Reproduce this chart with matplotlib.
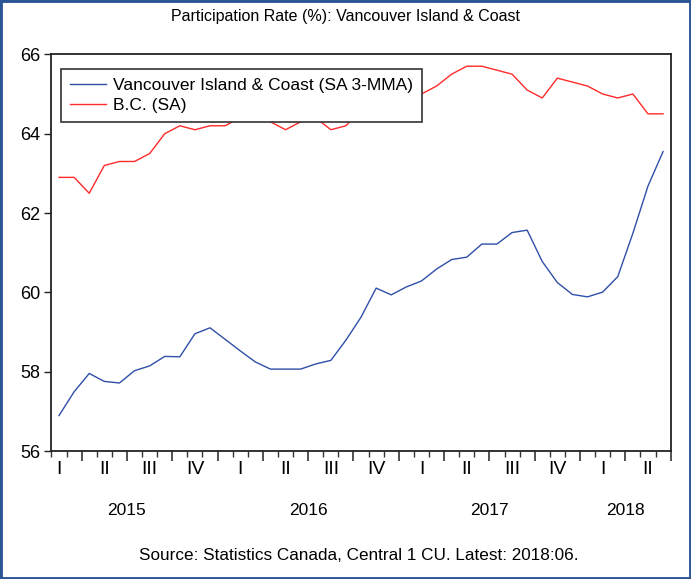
import numpy as np
import matplotlib
matplotlib.use("Agg")
import matplotlib.pyplot as plt
from matplotlib.patches import Rectangle
from matplotlib.transforms import blended_transform_factory

plt.rcParams['font.family'] = ['Liberation Sans', 'DejaVu Sans']

# monthly data, Feb 2015 .. Jun 2018
vic_island = [56.9, 57.5, 57.96, 57.76, 57.72, 58.03, 58.15, 58.39, 58.38, 58.96,
              59.11, 58.82, 58.53, 58.25, 58.07, 58.07, 58.07, 58.2, 58.29, 58.8,
              59.38, 60.11, 59.94, 60.14, 60.29, 60.59, 60.83, 60.89, 61.22, 61.22,
              61.51, 61.57, 60.78, 60.25, 59.95, 59.89, 60.01, 60.4, 61.49, 62.68,
              63.55]
bc = [62.9, 62.9, 62.5, 63.2, 63.3, 63.3, 63.5, 64.0, 64.2, 64.1,
      64.2, 64.2, 64.4, 64.4, 64.3, 64.1, 64.3, 64.4, 64.1, 64.2,
      64.6, 64.7, 64.8, 64.9, 65.0, 65.2, 65.5, 65.7, 65.7, 65.6,
      65.5, 65.1, 64.9, 65.4, 65.3, 65.2, 65.0, 64.9, 65.0, 64.5,
      64.5]
quarter_labels = ["I", "II", "III", "IV"] * 3 + ["I", "II"]
years = ["2015", "2016", "2017", "2018"]
year_centers = [4.5, 16.5, 28.5, 37.5]  # month index of year middle (visible part)

x = np.arange(len(vic_island))

fig = plt.figure(figsize=(6.91, 5.79), dpi=100)
ax = fig.add_axes([0.0745, 0.2206, 0.896, 0.6856])

ax.plot(x, vic_island, color='#2F4FA8', lw=1.0, label='Vancouver Island & Coast (SA 3-MMA)')
ax.plot(x, bc, color='#FF2A2A', lw=1.0, label='B.C. (SA)')

ax.set_xlim(-0.5, len(x) - 0.5)
ax.set_ylim(56, 66)
ax.set_yticks([56, 58, 60, 62, 64, 66])
ax.tick_params(axis='y', direction='out', length=5, width=1, pad=3, labelsize=13, colors='#222222')
ax.tick_params(axis='y', labelcolor='black')

# month ticks, longer ones at quarter boundaries
ax.set_xticks(np.arange(1.5, len(x), 3))
ax.set_xticks(np.arange(-0.5, len(x), 1), minor=True)
ax.set_xticklabels([])
ax.tick_params(axis='x', which='major', direction='out', length=7, width=1.2, color='#333333')
ax.tick_params(axis='x', which='minor', direction='out', length=4, width=1, color='#333333')

for s in ax.spines.values():
    s.set_linewidth(1.3)
    s.set_color('#222222')

trans = blended_transform_factory(ax.transData, ax.transAxes)
for i, q in enumerate(quarter_labels):
    ax.text(i * 3, -0.047, q, transform=trans, ha='center', va='center', fontsize=14)
for xc, yr in zip(year_centers, years):
    ax.text(xc, -0.15, yr, transform=trans, ha='center', va='center', fontsize=12.5)

leg = ax.legend(loc='upper left', bbox_to_anchor=(0.0153, 0.963), borderaxespad=0,
                fancybox=False, edgecolor='#333333', fontsize=12.5, handlelength=2.1,
                handletextpad=0.4, borderpad=0.5, labelspacing=0.3, framealpha=1)
leg.get_frame().set_linewidth(1.2)

fig.text(0.5, 0.972, 'Participation Rate (%): Vancouver Island & Coast',
         ha='center', va='center', fontsize=11.5)
fig.text(0.519, 0.04, 'Source: Statistics Canada, Central 1 CU. Latest: 2018:06.',
         ha='center', va='center', fontsize=12.3)

fig.patches.append(Rectangle((0, 0), 1, 1, transform=fig.transFigure, fill=False,
                             edgecolor='#2C5596', lw=3.5))

fig.savefig('out.png', dpi=100)
